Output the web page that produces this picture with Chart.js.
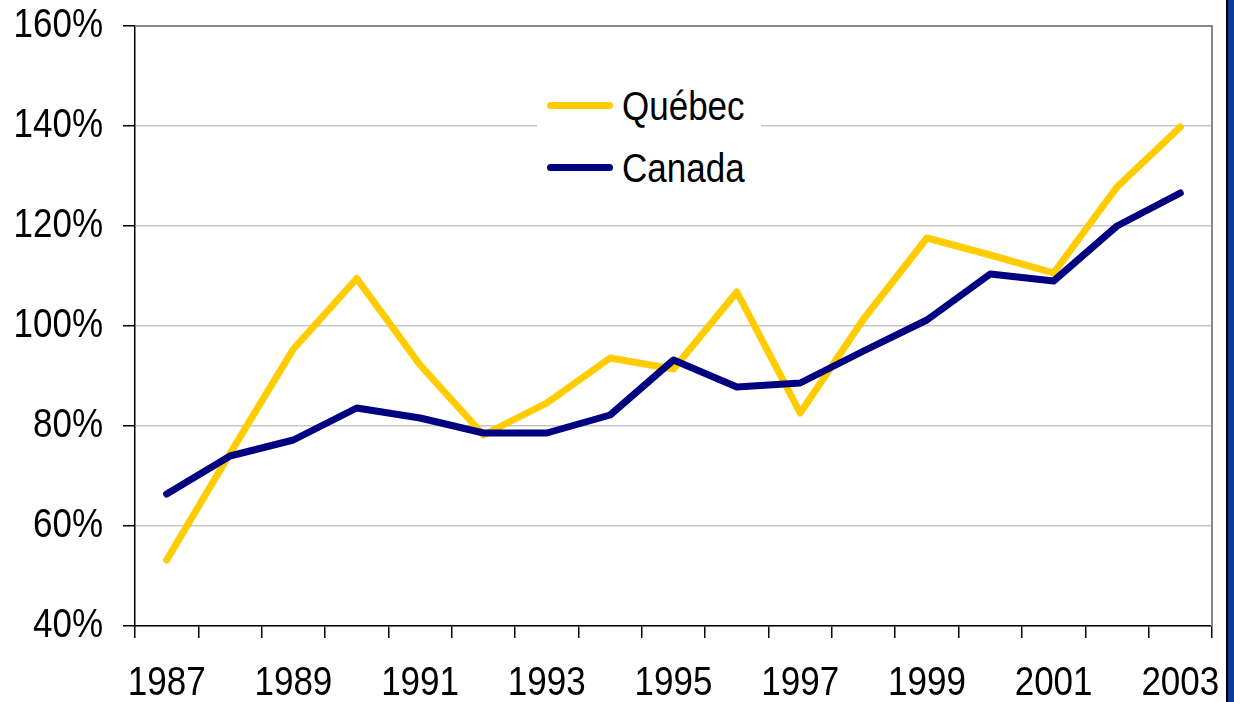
<!DOCTYPE html>
<html>
<head>
<meta charset="utf-8">
<script src="https://cdn.jsdelivr.net/npm/chart.js@4.4.0/dist/chart.umd.min.js"></script>
<style>
body { margin: 0; background: #fff; }
#wrap { position: relative; width: 1234px; height: 702px; }
#rightbar { position: absolute; left: 1226px; top: 0; width: 8px; height: 702px; background: #0d3a98; border-left: 2px solid #000; box-sizing: border-box; }
#legend { position: absolute; left: 537px; top: 80px; width: 224px; height: 118px; background: #fff; }
#legend .item { position: absolute; left: 0; width: 224px; height: 36px; }
#legend .sw { position: absolute; left: 10px; top: 14px; width: 66px; height: 7px; border-radius: 3.5px; }
#legend .txt { position: absolute; left: 85px; top: 0; font: 35px "Liberation Sans", Arial, sans-serif; line-height: 35px; color: #000; white-space: nowrap; transform: scaleY(1.15); transform-origin: left center; }
</style>
</head>
<body>
<div id="wrap">
  <canvas id="myChart" width="1226" height="702"></canvas>
  <div id="legend"></div>
  <div id="rightbar"></div>
</div>
<script>
// values, in %
const years = ['1987','1988','1989','1990','1991','1992','1993','1994','1995','1996','1997','1998','1999','2000','2001','2002','2003'];
const quebec = [53.2, 74.5, 95.4, 109.5, 92.2, 78.2, 84.6, 93.6, 91.4, 106.8, 82.6, 101.4, 117.6, 114.2, 110.6, 127.8, 139.8];
const canada = [66.4, 74.0, 77.2, 83.6, 81.6, 78.6, 78.6, 82.2, 93.2, 87.8, 88.6, 95.0, 101.2, 110.4, 109.0, 120.0, 126.6];
const yMin = 40, yMax = 160, yStep = 20;

const seriesNames = ['Québec', 'Canada'];
const seriesColors = ['#ffcc00', '#000080'];

const fontFamily = '"Liberation Sans", Arial, sans-serif';
const textStretch = 1.15; // the original's lettering is a bit taller than wide

// gray frame on top / right of the plot
const frame = {
  id: 'frame',
  afterDraw(chart) {
    const a = chart.chartArea, c = chart.ctx;
    c.save();
    c.strokeStyle = '#888';
    c.lineWidth = 2;
    c.beginPath();
    c.moveTo(a.left, a.top);
    c.lineTo(a.right, a.top);
    c.lineTo(a.right, a.bottom);
    c.stroke();
    c.restore();
  }
};

// stretch canvas text vertically around its anchor point
const tallText = {
  id: 'tallText',
  beforeInit(chart) {
    const c = chart.ctx;
    const orig = c.fillText;
    c.fillText = function (t, x, y, w) {
      this.save();
      this.translate(x, y);
      this.scale(1, textStretch);
      if (w === undefined) orig.call(this, t, 0, 0);
      else orig.call(this, t, 0, 0, w);
      this.restore();
    };
  }
};

const ctx = document.getElementById('myChart');

chart = new Chart(ctx, {
  type: 'line',
  data: {
    labels: years,
    datasets: [{
      label: seriesNames[0],
      data: quebec,
      borderColor: seriesColors[0],
      borderWidth: 7,
      pointRadius: 0,
      tension: 0,
      borderCapStyle: 'round',
      borderJoinStyle: 'round',
      order: 1
    }, {
      label: seriesNames[1],
      data: canada,
      borderColor: seriesColors[1],
      borderWidth: 7,
      pointRadius: 0,
      tension: 0,
      borderCapStyle: 'round',
      borderJoinStyle: 'round',
      order: 0
    }]
  },
  options: {
    responsive: false,
    animation: false,
    layout: { padding: { top: 26, right: 14, left: 0, bottom: 0 } },
    plugins: { legend: { display: false }, tooltip: { enabled: false } },
    scales: {
      x: {
        offset: true,
        grid: { display: true, drawOnChartArea: false, offset: true, tickLength: 12, tickColor: '#000', lineWidth: 1.5 },
        border: { display: true, color: '#000', width: 1.5 },
        ticks: {
          autoSkip: false,
          maxRotation: 0,
          padding: 25,
          color: '#000',
          font: { family: fontFamily, size: 35 },
          callback: (v, i) => (i % 2 === 0 ? years[i] : '')
        },
        afterFit: s => { s.height = 76; s.paddingLeft = 0; s.paddingRight = 0; }
      },
      y: {
        min: yMin,
        max: yMax,
        grid: {
          color: c => (c.tick && c.tick.value === yMax ? '#888' : '#c8c8c8'),
          lineWidth: 1.5,
          tickLength: 12,
          tickColor: '#000'
        },
        border: { display: true, color: '#000', width: 1.5 },
        ticks: {
          stepSize: yStep,
          padding: 20,
          color: '#000',
          font: { family: fontFamily, size: 35 },
          callback: v => v + '%'
        },
        afterFit: s => { s.width = 135; s.paddingTop = 0; s.paddingBottom = 0; }
      }
    }
  },
  plugins: [tallText, frame]
});

// legend as html, built from the dataset names/colours
const legendTops = [8, 70];
const leg = document.getElementById('legend');
seriesNames.forEach((name, i) => {
  const item = document.createElement('div');
  item.className = 'item';
  item.style.top = legendTops[i] + 'px';
  const sw = document.createElement('div');
  sw.className = 'sw';
  sw.style.background = seriesColors[i];
  const t = document.createElement('div');
  t.className = 'txt';
  t.textContent = name;
  item.appendChild(sw);
  item.appendChild(t);
  leg.appendChild(item);
});
</script>
</body>
</html>
